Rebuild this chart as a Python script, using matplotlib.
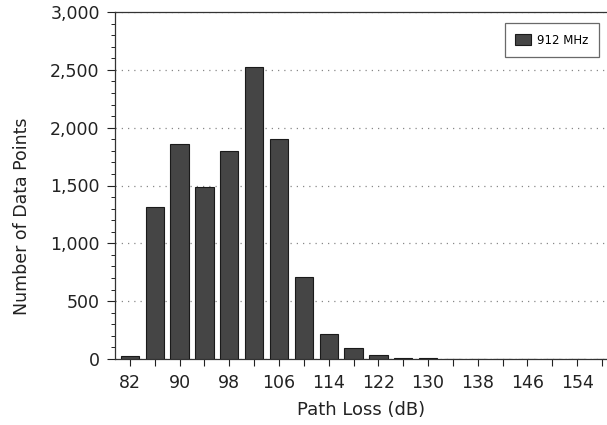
import matplotlib.pyplot as plt
import numpy as np
from matplotlib.ticker import MultipleLocator, FuncFormatter

# path loss bins (dB) and counts
path_loss = [82, 86, 90, 94, 98, 102, 106, 110, 114, 118,
             122, 126, 130, 134, 138, 142, 146, 150, 154, 158]
counts = [22, 1310, 1858, 1490, 1795, 2525, 1904, 707, 219, 92,
          32, 12, 5, 3, 0, 0, 0, 0, 0, 0]
series_name = "912 MHz"

plt.rcParams['font.family'] = ['DejaVu Sans']

fig = plt.figure(figsize=(6.07, 4.25), dpi=100)
ax = fig.add_axes([115/607, 1 - 359/425, 1 - 115/607, 347/425])

x = np.arange(len(path_loss))
ax.bar(x, counts, width=0.74, color='#454545', edgecolor='#1a1a1a',
       linewidth=0.8, label=series_name, zorder=3)

ax.set_xlim(-0.6, 19.2)
ax.set_ylim(0, 3000)

ax.set_xticks(x)
ax.set_xticklabels([str(p) if i % 2 == 0 else '' for i, p in enumerate(path_loss)])
ax.yaxis.set_major_locator(MultipleLocator(500))
ax.yaxis.set_minor_locator(MultipleLocator(100))
ax.yaxis.set_major_formatter(FuncFormatter(lambda v, p: f"{int(v):,}"))

ax.tick_params(axis='both', labelsize=12.5, colors='#222222')
ax.tick_params(axis='y', which='major', length=6, width=0.8, pad=5)
ax.tick_params(axis='y', which='minor', length=3, width=0.6)
ax.tick_params(axis='x', which='major', length=5, width=0.8, pad=6)

ax.grid(axis='y', linestyle=(0, (1, 4)), color='#888888', linewidth=0.9, zorder=0)

for s in ['left', 'bottom', 'top']:
    ax.spines[s].set_color('#333333')
    ax.spines[s].set_linewidth(0.9)
ax.spines['right'].set_visible(False)

ax.set_xlabel("Path Loss (dB)", fontsize=13, color='#222222', labelpad=6)
ax.set_ylabel("Number of Data Points", fontsize=12.5, color='#222222')
ax.yaxis.set_label_coords(-0.17, 0.41)

leg = ax.legend(loc='upper right', fontsize=8.5, frameon=True, fancybox=False,
                edgecolor='#444444', handlelength=1.3, handleheight=1.0,
                borderpad=0.9, handletextpad=0.5, bbox_to_anchor=(0.995, 0.985))
leg.get_frame().set_linewidth(0.9)

fig.savefig("out.png", dpi=100)
